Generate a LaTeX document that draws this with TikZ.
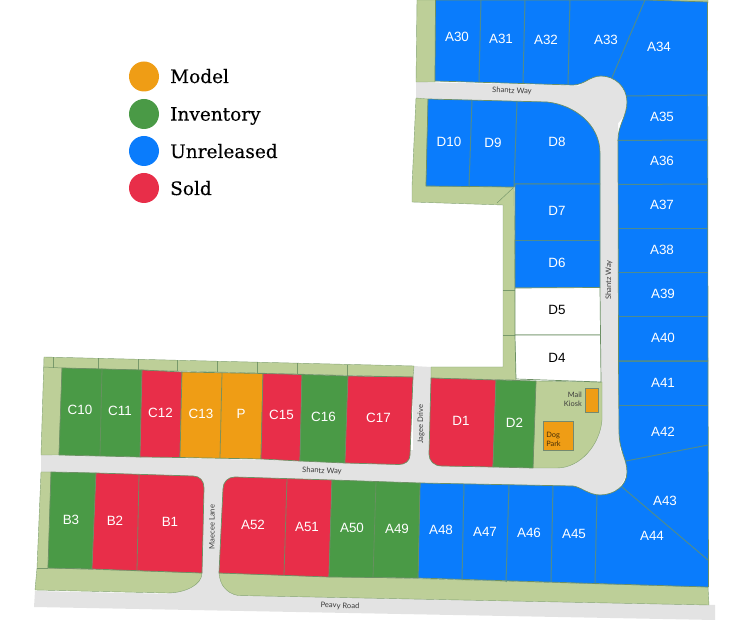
\documentclass[tikz,border=0pt]{standalone}
\usepackage{fontspec}
\setmainfont{Liberation Sans}
\newfontfamily\legfont[FakeBold=0.25]{DejaVu Serif}
\newfontfamily\smallfont{Lato}
\definecolor{cblue}{HTML}{0A7CFC}
\definecolor{cgreen}{HTML}{4A9A46}
\definecolor{cred}{HTML}{E82E49}
\definecolor{corange}{HTML}{EF9D15}
\definecolor{cland}{HTML}{BDCF98}
\definecolor{croad}{HTML}{E3E3E3}
\definecolor{cline}{HTML}{6C9064}
\definecolor{cbdiv}{HTML}{4E8C8E}
\definecolor{ctxt}{HTML}{3C3C3C}
\tikzset{
  lot/.style={draw=cline,line width=.7pt,line join=round},
  bluelot/.style={lot,fill=cblue},
  greenlot/.style={lot,fill=cgreen},
  redlot/.style={lot,fill=cred},
  orangelot/.style={lot,fill=corange},
  whitelot/.style={lot,fill=white},
  land/.style={fill=cland,draw=cline!70!cland,line width=.4pt},
  road/.style={fill=croad},
  div/.style={draw=cline,line width=.8pt,draw opacity=.85},
  bdiv/.style={draw=cbdiv,line width=1pt},
  amen/.style={fill=corange,draw=cline!60!gray,line width=.7pt},
  lotlabel/.style={text=white,font=\fontsize{13.4}{13.4}\selectfont,inner sep=0pt},
  darklabel/.style={text=black,font=\fontsize{13.4}{13.4}\selectfont,inner sep=0pt},
  roadlabel/.style={text=ctxt,font=\smallfont\fontsize{7.6}{8}\selectfont,inner sep=0pt},
  legdot/.style={circle,minimum size=30pt,inner sep=0pt},
  legtext/.style={anchor=base west,inner sep=0pt,text=black,font=\legfont\fontsize{18.5}{20}\selectfont}
}
\begin{document}
\begin{tikzpicture}[x=1pt,y=-1pt]
\useasboundingbox (0,0) rectangle (740,620);
% roads
\fill[road] (35,591) -- (709,605) -- (715,605) -- (715,620) -- (34,607) -- cycle;
\fill[road] (41,455) -- (620,468) -- (620,490) -- (41,472) -- cycle;
\fill[road] (204,470) -- (224,470) -- (222,600) -- (200,600) -- cycle;
\fill[road] (165,595) -- (205,568) -- (205,600) -- cycle;
\fill[road] (218,568) -- (240,598) -- (218,600) -- cycle;
\fill[road] (192,470) -- (236,470) -- (236,490) -- (192,490) -- cycle;
\fill[road] (413,366) -- (431,367) -- (431,470) -- (413,470) -- cycle;
\fill[road] (402,450) -- (442,450) -- (442,470) -- (402,470) -- cycle;
\fill[road] (600,100) -- (618,100) -- (620,480) -- (600,480) -- cycle;
\fill[road] (416,82) -- (600,86) -- (600,108) -- (416,98) -- cycle;
\fill[road] (547,100) -- (600,100) -- (600,155) -- cycle;
\fill[road] (557,470) -- (602,420) -- (602,470) -- cycle;
\fill[road] (600,103) circle [radius=27];
\fill[road] (600,468) circle [radius=27];
% landscaping
\path[land] (417,0) -- (436,0) -- (435,82) -- (416,82) -- cycle;
\path[land] (645,0) -- (708,0) -- (708,3) -- cycle;
\path[land] (416,98) -- (412,186) -- (412,202) -- (503,205) -- (503,367) -- (431,367) -- (431,378) -- (516,380) -- (514,187) -- (426,186) -- (428,99) -- cycle;
\path[land] (536,381) -- (602,382) -- (602,420) .. controls (600,445) and (580,468) .. (557,468) -- (533,468) -- cycle;
\path[land] (44,357) -- (414,366) -- (413,377) -- (62,368) -- (59,455) -- (41,455) -- cycle;
\path[land] (41,472) -- (51,472) -- (48,568) -- (202,573) .. controls (202,585) and (185,593) .. (167,593) -- (35,590) -- (37,568) -- cycle;
\path[land] (219,573) -- (708,587) -- (709,605) -- (238,595.5) .. controls (226,593) and (220,585) .. (219,573) -- cycle;
% ticks in the landscaping
\foreach \x/\a/\b in {53/357.3/368,98/358.4/369,138/359.4/370,177/360.4/371.5,217/361.4/372.5,257/362.4/373.5,297/363.4/374.5,347/364.7/376}
  \draw[div,line width=.5pt] (\x,\a) -- (\x,\b);
\draw[div,line width=.5pt] (44,367) -- (62,368);
\draw[div,line width=.5pt] (37,568) -- (48,568);
\draw[div,line width=.5pt] (497,203) -- (513,188);
\draw[div,line width=.5pt] (503,290) -- (515,290);
\draw[div,line width=.5pt] (503,335) -- (515,335);
% blue blocks
\path[bluelot] (435.5,0) -- (645,0) -- (707.5,2) -- (708,361) -- (618.5,361) -- (618,140) .. controls (618,125) and (627,116) .. (627,102) .. controls (627,87) and (615,76) .. (601,76) .. controls (590,76) and (584,85) .. (573,85) -- (435,81) -- cycle;
\path[bluelot] (618.5,361) -- (708,361) -- (708.5,587) -- (418,578) -- (420,483) -- (573,486) .. controls (581,487) and (589,495) .. (600,495) .. controls (614,495) and (627,486) .. (627,472) .. controls (627,458) and (619,452) .. (619,430) -- cycle;
\path[bluelot] (428,99) -- (547,102) .. controls (575,105) and (600,125) .. (600,153) -- (600,184) -- (515,184) -- (514,187) -- (426,186) -- cycle;
\path[bluelot] (515,184) -- (600,184) -- (600,287.5) -- (515,288) -- cycle;
\path[whitelot] (515,288) -- (600,287.5) -- (600.5,335) -- (515,335) -- cycle;
\path[whitelot] (515,335) -- (600.5,335) -- (601,382) -- (516,379) -- cycle;
% dividers in blue blocks
\draw[bdiv] (481,0) -- (479,81.5);
\draw[bdiv] (525,0) -- (523,83);
\draw[bdiv] (570,0) -- (568,84.5);
\draw[bdiv] (645,0) -- (612,77.5);
\draw[bdiv] (627,96) -- (707.5,95);
\draw[bdiv] (617.5,140.5) -- (707.5,140);
\draw[bdiv] (618,184.5) -- (707.5,184);
\draw[bdiv] (618,228.7) -- (707.5,228.7);
\draw[bdiv] (618,273) -- (708,273);
\draw[bdiv] (618.5,317) -- (708,317);
\draw[bdiv] (618.5,361.7) -- (708,361.7);
\draw[bdiv] (619,405.7) -- (708,405.7);
\draw[bdiv] (626,461) -- (708,445);
\draw[bdiv] (622,487) -- (708,560);
\draw[bdiv] (597,495) -- (595,584);
\draw[bdiv] (553,486) -- (551,582);
\draw[bdiv] (509,485) -- (506,582);
\draw[bdiv] (464,484) -- (462,580);
\draw[bdiv] (472,100) -- (469,187);
\draw[bdiv] (517,102) -- (514,187);
\draw[bdiv] (515,241) -- (600,241);
% C row
\path[greenlot] (62,368) -- (142,370) -- (140,457) -- (59,455) -- cycle;
\path[redlot] (142,370) -- (182,372) -- (180,457.5) -- (140,457) -- cycle;
\path[orangelot] (182,372) -- (263,373.5) -- (261,459) -- (180,457.5) -- cycle;
\path[redlot] (263,373.5) -- (302,374.5) -- (300,461) -- (261,459) -- cycle;
\path[greenlot] (302,374.5) -- (348,376) -- (345,463) -- (300,461) -- cycle;
\path[redlot] (348,376) -- (413,377) -- (410,455) .. controls (410,461) and (405,464.5) .. (399,464.5) -- (345,463) -- cycle;
\draw[div] (102,368.5) -- (100,456);
\draw[div] (222,373) -- (220,458);
% D1, D2
\path[redlot] (431,378) -- (496,380) -- (493,467) -- (442,466) .. controls (434,466) and (429,461) .. (429,454) -- cycle;
\path[greenlot] (496,380) -- (536,381) -- (533,468) -- (493,467) -- cycle;
% B row
\path[greenlot] (51,472) -- (96,473) -- (92,569) -- (48,568) -- cycle;
\path[redlot] (96,473) -- (193,476) .. controls (200,476) and (204,481) .. (204,488) -- (202,573) -- (92,569) -- cycle;
\draw[div] (139,474.3) -- (137,570.5);
% A50-52
\path[redlot] (235,477) -- (332,480) -- (329,577) -- (219,573) -- (223,489) .. controls (223,482) and (228,477) .. (235,477) -- cycle;
\draw[div] (287,479) -- (284,575);
\path[greenlot] (332,480) -- (420,483) -- (418,578) -- (329,577) -- cycle;
\draw[div] (376,481.5) -- (373,577.5);
% amenities
\path[amen] (585,388) rectangle (598,412);
\path[amen] (543,421) rectangle (573,450);
% legend
\node[legdot,fill=corange] (dotm) at (144,76.5) {};
\node[legdot,fill=cgreen] (doti) at (144,114) {};
\node[legdot,fill=cblue] (dotu) at (144,151) {};
\node[legdot,fill=cred] (dots) at (144,188) {};
\node[legtext] (legm) at (170,83) {Model};
\node[legtext] (legi) at (170,120.7) {Inventory};
\node[legtext] (legu) at (170,158) {Unreleased};
\node[legtext] (legs) at (170,195) {Sold};
% lot labels
\foreach \n/\x/\y in {A30/457/37,A31/501/38.5,A32/546/39.5,A33/606/40,A34/659/47,A35/662/117,A36/662/161,A37/662/205,A38/662/250,A39/663/294,A40/663/338,A41/663/383,A42/663/432,A43/665/501,A44/652/536,A45/574/534,A46/529/533,A47/485/531.5,A48/441/530,A49/397/529,A50/352/527.5,A51/307/526.5,A52/253/525,B1/170/522,B2/115/521,B3/71/519.5,C10/80/410,C11/120/411,C12/160.5/412.5,C13/201/413.5,P/241/414,C15/281.5/415,C16/323.5/416.5,C17/378.5/418,D1/461/421,D2/514.5/422.5,D6/557/263,D7/557/211,D8/557/142,D9/493/143,D10/449/142}
  \node[lotlabel] (l\n) at (\x,\y) {\n};
\node[darklabel] (lD5) at (557,310) {D5};
\node[darklabel] (lD4) at (557,358) {D4};
% road labels
\node[roadlabel,rotate=-2] (r1) at (512,91) {Shantz Way};
\node[roadlabel,rotate=90] (r2) at (609,280) {Shantz Way};
\node[roadlabel,rotate=-2] (r3) at (322,471) {Shantz Way};
\node[roadlabel,rotate=-2] (r4) at (340,606) {Peavy Road};
\node[roadlabel,rotate=90] (r5) at (212,527) {Maecee Lane};
\node[roadlabel,rotate=90] (r6) at (421,424) {Jagee Drive};
\node[roadlabel,align=right,anchor=east,font=\smallfont\fontsize{7.4}{9}\selectfont] (r7) at (582,399) {Mail\\Kiosk};
\node[roadlabel,align=left,font=\smallfont\fontsize{7.4}{9}\selectfont,text=black!70!corange] (r8) at (553.5,439) {Dog\\Park};
\end{tikzpicture}
\end{document}
